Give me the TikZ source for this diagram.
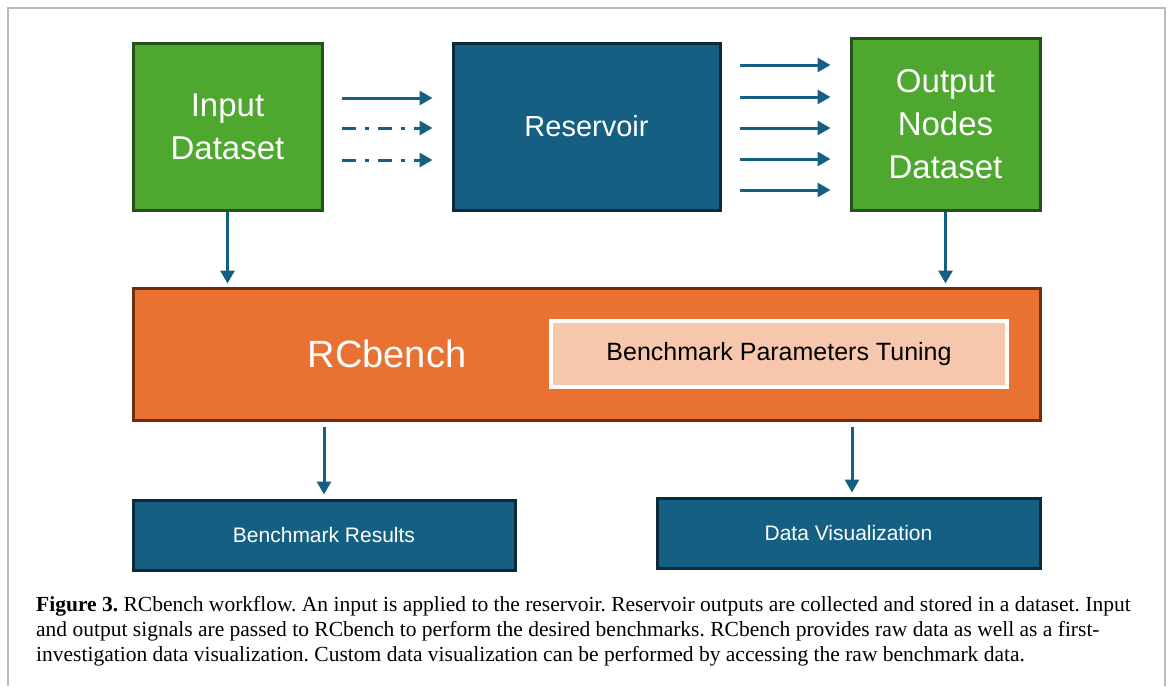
\documentclass[tikz,border=0pt]{standalone}
\usepackage{fontspec}
\setmainfont{Liberation Serif}
\newfontfamily\boxfont{Liberation Sans}
\usetikzlibrary{arrows.meta,calc}
\definecolor{cgreen}{HTML}{4EA72E}
\definecolor{cgreenb}{HTML}{24501A}
\definecolor{cblue}{HTML}{156082}
\definecolor{cblueb}{HTML}{0C2A3C}
\definecolor{corange}{HTML}{E97132}
\definecolor{coranb}{HTML}{6E2E10}
\definecolor{cpeach}{HTML}{F6C6AD}
\definecolor{cframe}{HTML}{BBBBBB}
\frenchspacing
\begin{document}
\begin{tikzpicture}[x=1pt,y=-1pt,
  greenbox/.style={draw=cgreenb, fill=cgreen, line width=3pt, text=white, inner sep=0pt, align=center,
    font=\boxfont\fontsize{33}{43}\selectfont, minimum width=189pt},
  bluebox/.style={draw=cblueb, fill=cblue, line width=3pt, text=white, inner sep=0pt, align=center},
  flow/.style={draw=cblue, line width=3pt, -{Triangle[length=13pt,width=14pt]}},
  dashflow/.style={flow, dash pattern=on 14pt off 9pt on 4pt off 9pt},
  captionline/.style={anchor=base west, inner sep=0pt, font=\fontsize{21.5}{25}\selectfont}
]
\useasboundingbox (0,0) rectangle (1169,686);
\draw[cframe, line width=2pt] (8,686) -- (8,8) -- (1165,8) -- (1165,686);

\node[greenbox, minimum height=167pt] (in) at (227.5,126.5) {Input\\Dataset};
\node[bluebox, minimum width=267pt, minimum height=167pt, font=\boxfont\fontsize{29}{35}\selectfont] (res) at (586.5,126.5) {Reservoir};
\node[greenbox, minimum height=172pt] (out) at (945.5,124) {Output\\Nodes\\Dataset};

\node[draw=coranb, fill=corange, line width=3pt, inner sep=0pt, minimum width=907pt, minimum height=132pt] (rc) at (586.5,354) {};
\node[text=white, inner sep=0pt, font=\boxfont\fontsize{38}{44}\selectfont] (rclabel) at (387,354) {RCbench};
\node[draw=white, fill=cpeach, line width=4pt, inner sep=0pt, minimum width=456pt, minimum height=66pt,
  font=\boxfont\fontsize{25}{30}\selectfont] (tune) at (779,354) {\raisebox{-2pt}{Benchmark Parameters Tuning}};

\node[bluebox, minimum width=382pt, minimum height=70pt, font=\boxfont\fontsize{21}{25}\selectfont] (br) at (324,535) {Benchmark Results};
\node[bluebox, minimum width=383pt, minimum height=70pt, font=\boxfont\fontsize{21}{25}\selectfont] (dv) at (848.5,533) {Data Visualization};

% input -> reservoir
\draw[flow] ([xshift=18pt,yshift=28.5pt]in.east) -- ([xshift=-19pt,yshift=28.5pt]res.west);
\draw[dashflow] ([xshift=18pt,yshift=-1.5pt]in.east) -- ([xshift=-19pt,yshift=-1.5pt]res.west);
\draw[dashflow] ([xshift=18pt,yshift=-33.5pt]in.east) -- ([xshift=-19pt,yshift=-33.5pt]res.west);
% reservoir -> output
\foreach \s in {61.5,29.5,-1.5,-32.5,-63.5}{
  \draw[flow] ([xshift=18pt,yshift=\s pt]res.east) -- ([xshift=-19pt,yshift=\s pt]out.west |- res.east);
}
% down arrows
\draw[flow, shorten >=3pt] (in.south) -- (in.south |- rc.north);
\draw[flow, shorten >=3pt] (out.south) -- (out.south |- rc.north);
\draw[flow, shorten <=5pt, shorten >=4pt] (rc.south -| br.north) -- (br.north);
\draw[flow, shorten <=5pt, shorten >=4pt] ([xshift=3.5pt]rc.south -| dv.north) -- ([xshift=3.5pt]dv.north);

% caption
\node[captionline] (cap1) at (36,611) {\textbf{Figure 3.} RCbench workflow. An input is applied to the reservoir. Reservoir outputs are collected and stored in a dataset. Input};
\node[captionline] (cap2) at (36,636) {and output signals are passed to RCbench to perform the desired benchmarks. RCbench provides raw data as well as a first-};
\node[captionline] (cap3) at (36,661) {investigation data visualization. Custom data visualization can be performed by accessing the raw benchmark data.};
\end{tikzpicture}
\end{document}
